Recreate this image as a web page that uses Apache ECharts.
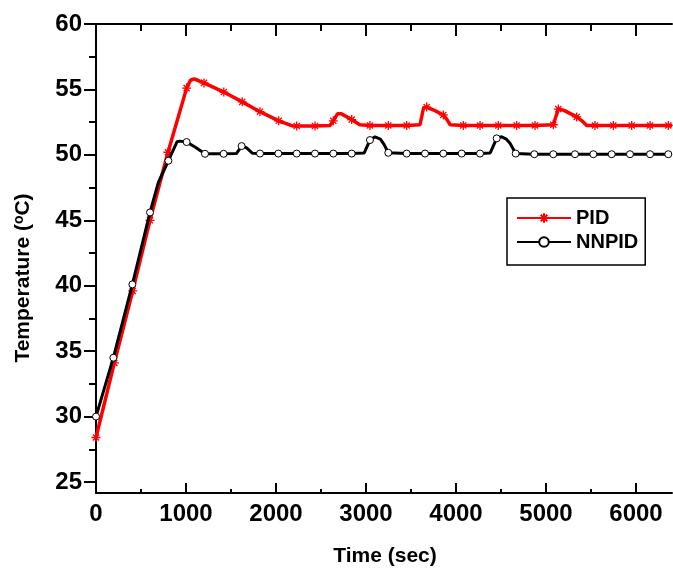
<!DOCTYPE html>
<html>
<head>
<meta charset="utf-8">
<script src="https://cdn.jsdelivr.net/npm/echarts@6/dist/echarts.min.js"></script>
<style>html,body{margin:0;padding:0;background:#fff;}#c{width:673px;height:572px;}</style>
</head>
<body>
<div id="c"></div>
<script>
// Tick values
var xMajor = [0, 1000, 2000, 3000, 4000, 5000, 6000];
var xMinor = [500, 1500, 2500, 3500, 4500, 5500];
var yMajor = [25, 30, 35, 40, 45, 50, 55, 60];
var yMinor = [27.5, 32.5, 37.5, 42.5, 47.5, 52.5, 57.5];

// PID (red) curve: time, temperature, marker flag
var pidTime = [0, 204, 408, 600, 800, 1007, 1050, 1090, 1130, 1200, 1420, 1625, 1822, 2030, 2190, 2230, 2433, 2600, 2637, 2685, 2720, 2790, 2841, 2930, 3044, 3248, 3452, 3600, 3640, 3674, 3760, 3859, 3900, 3935, 4081, 4267, 4470, 4674, 4878, 5081, 5137, 5200, 5341, 5400, 5452, 5544, 5748, 5952, 6156, 6359, 6400];
var pidTemp = [28.4, 34.1, 39.6, 45.0, 50.2, 55.1, 55.7, 55.8, 55.7, 55.5, 54.8, 54.05, 53.3, 52.6, 52.2, 52.2, 52.2, 52.25, 52.6, 53.15, 53.15, 52.9, 52.7, 52.3, 52.25, 52.25, 52.25, 52.3, 53.6, 53.65, 53.4, 53.05, 52.7, 52.3, 52.25, 52.25, 52.25, 52.25, 52.25, 52.3, 53.5, 53.4, 52.9, 52.6, 52.25, 52.25, 52.25, 52.25, 52.25, 52.25, 52.25];
var pidMark = [1, 1, 1, 1, 1, 1, 0, 0, 0, 1, 1, 1, 1, 1, 0, 1, 1, 0, 1, 0, 0, 0, 1, 0, 1, 1, 1, 0, 0, 1, 0, 1, 0, 0, 1, 1, 1, 1, 1, 1, 1, 0, 1, 0, 0, 1, 1, 1, 1, 1, 0];

// NNPID (black) curve
var nnTime = [0, 193, 404, 600, 693, 804, 900, 930, 1007, 1100, 1211, 1418, 1560, 1618, 1670, 1740, 1822, 2026, 2230, 2433, 2637, 2841, 2980, 3044, 3100, 3160, 3200, 3248, 3452, 3656, 3859, 4063, 4267, 4380, 4452, 4507, 4560, 4600, 4663, 4870, 5081, 5322, 5526, 5730, 5933, 6156, 6359, 6400];
var nnTemp = [30.0, 34.5, 40.1, 45.6, 47.9, 49.55, 51.0, 51.05, 50.98, 50.6, 50.08, 50.08, 50.1, 50.67, 50.55, 50.12, 50.1, 50.1, 50.1, 50.1, 50.1, 50.1, 50.15, 51.13, 51.38, 51.2, 50.8, 50.16, 50.1, 50.1, 50.1, 50.1, 50.1, 50.15, 51.26, 51.38, 51.2, 50.88, 50.1, 50.05, 50.05, 50.05, 50.05, 50.05, 50.05, 50.05, 50.05, 50.05];
var nnMark = [1, 1, 1, 1, 0, 1, 0, 0, 1, 0, 1, 1, 0, 1, 0, 0, 1, 1, 1, 1, 1, 1, 0, 1, 0, 0, 0, 1, 1, 1, 1, 1, 1, 0, 1, 0, 0, 0, 1, 1, 1, 1, 1, 1, 1, 1, 1, 0];

var seriesNames = ['PID', 'NNPID'];
var xTitle = 'Time (sec)';
var yTitle = 'Temperature ({s|o}C)';

var STAR = 'path://M5,0L5,10M0,5L10,5M1.6,1.6L8.4,8.4M1.6,8.4L8.4,1.6';

function build(ts, vs, ms) {
  return ts.map(function (t, i) {
    var d = { value: [t, vs[i]] };
    if (!ms[i]) d.symbol = 'none';
    return d;
  });
}

var FONT = 'Liberation Sans, Arial, sans-serif';
var chart = echarts.init(document.getElementById('c'), null, { renderer: 'canvas' });
function plain(v) { return String(v); }

function xAx(pos, major, len, show, labels) {
  return {
    type: 'value', position: pos, min: 0, max: 6400,
    axisLine: { show: show, onZero: false, lineStyle: { color: '#000', width: 2 } },
    axisTick: { show: true, inside: true, length: len, customValues: major, lineStyle: { color: '#000', width: 2 } },
    axisLabel: labels ? { show: true, customValues: major, formatter: plain, margin: 9, color: '#000', fontSize: 24, fontWeight: 'bold', fontFamily: FONT } : { show: false },
    splitLine: { show: false }
  };
}
function yAx(major, len, labels) {
  return {
    type: 'value', position: 'left', min: 24.16, max: 60,
    axisLine: { show: labels, onZero: false, lineStyle: { color: '#000', width: 2 } },
    axisTick: { show: true, inside: false, length: len, customValues: major, lineStyle: { color: '#000', width: 2 } },
    axisLabel: labels ? { show: true, customValues: major, formatter: plain, margin: 14, color: '#000', fontSize: 24, fontWeight: 'bold', fontFamily: FONT } : { show: false },
    splitLine: { show: false }
  };
}

chart.setOption({
  animation: false,
  backgroundColor: '#fff',
  grid: { left: 96, top: 24, right: 1, bottom: 79, containLabel: false },
  xAxis: [xAx('bottom', xMajor, 10, true, true), xAx('bottom', xMinor, 4, false, false), xAx('top', xMajor, 12, true, false), xAx('top', xMinor, 7, false, false)],
  yAxis: [yAx(yMajor, 12, true), yAx(yMinor, 7, false)],
  graphic: [
    { type: 'text', x: 385, y: 556, style: { text: xTitle, align: 'center', verticalAlign: 'middle', fill: '#000', fontSize: 21, fontWeight: 'bold', fontFamily: FONT } },
    { type: 'text', x: 23, y: 278, rotation: Math.PI / 2, style: { text: yTitle, align: 'center', verticalAlign: 'middle', fill: '#000', fontSize: 21, fontWeight: 'bold', fontFamily: FONT,
      rich: { s: { fontSize: 14, fontWeight: 'bold', fontFamily: FONT, fill: '#000', verticalAlign: 'top', padding: [0, 0, 8, 0] } } } }
  ],
  legend: {
    left: 507, top: 198, orient: 'vertical',
    data: seriesNames,
    borderColor: '#000', borderWidth: 1.5, borderRadius: 0,
    padding: [10, 7, 13, 9], itemGap: 4, itemWidth: 54, itemHeight: 12,
    textStyle: { color: '#000', fontSize: 20, fontWeight: 'bold', fontFamily: FONT }
  },
  series: [
    {
      name: seriesNames[0], type: 'line', xAxisIndex: 0, yAxisIndex: 0,
      data: build(pidTime, pidTemp, pidMark),
      symbol: STAR, symbolSize: 9, showAllSymbol: true, z: 2,
      lineStyle: { color: '#ff0000', width: 3.5 },
      itemStyle: { color: '#ff0000', borderColor: '#ff0000', borderWidth: 1.3 }
    },
    {
      name: seriesNames[1], type: 'line', xAxisIndex: 0, yAxisIndex: 0,
      data: build(nnTime, nnTemp, nnMark),
      symbol: 'circle', symbolSize: 7, showAllSymbol: true, z: 3,
      lineStyle: { color: '#000', width: 3 },
      itemStyle: { color: '#fff', borderColor: '#000', borderWidth: 1 }
    }
  ]
});
</script>
</body>
</html>
